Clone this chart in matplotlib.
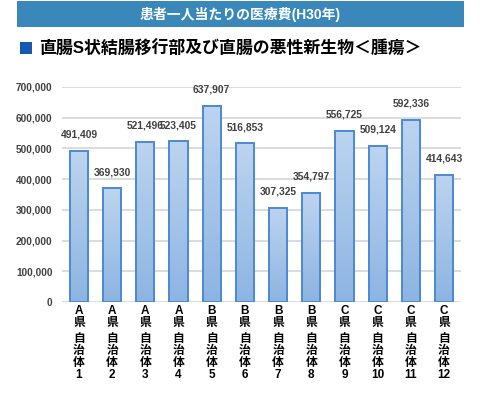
import numpy as np
import matplotlib.pyplot as plt
from matplotlib.patches import Rectangle
from matplotlib.ticker import FuncFormatter
from matplotlib.colors import LinearSegmentedColormap

plt.rcParams['font.family'] = ['Liberation Sans', 'Noto Sans CJK JP', 'DejaVu Sans']

banner_title = '患者一人当たりの医療費(H30年)'
chart_title = '直腸S状結腸移行部及び直腸の悪性新生物＜腫瘍＞'
prefectures = ['A', 'A', 'A', 'A', 'B', 'B', 'B', 'B', 'C', 'C', 'C', 'C']
towns = ['1', '2', '3', '4', '5', '6', '7', '8', '9', '10', '11', '12']
costs = [491409, 369930, 521496, 523405, 637907, 516853,
         307325, 354797, 556725, 509124, 592336, 414643]
y_ticks = [0, 100000, 200000, 300000, 400000, 500000, 600000, 700000]

W, H = 480, 397
fig = plt.figure(figsize=(W / 100, H / 100), dpi=100)
fig.patch.set_facecolor('white')


def px_box(x0, y0, x1, y1):
    # pixel box (top-left origin) -> figure fraction rect
    return (x0 / W, 1 - y1 / H, (x1 - x0) / W, (y1 - y0) / H)


# header banner
bx, by, bw, bh = px_box(17, 1, 464, 27)
fig.patches.append(Rectangle((bx, by), bw, bh, transform=fig.transFigure,
                             facecolor='#3a88ba', edgecolor='none'))
fig.text(240 / W, 1 - 14 / H, banner_title, color='white', fontsize=10,
         fontweight='bold', ha='center', va='center')

# title with blue square
sx, sy, sw, sh = px_box(20, 42, 32, 54)
fig.patches.append(Rectangle((sx, sy), sw, sh, transform=fig.transFigure,
                             facecolor='#1559b0', edgecolor='none'))
fig.text(39 / W, 1 - 48 / H, chart_title, color='black', fontsize=12.2,
         fontweight='bold', ha='left', va='center')

ax = fig.add_axes(px_box(62.4, 87, 460.6, 302))
x = np.arange(len(costs))
bar_w = 0.55

bars = ax.bar(x, costs, width=bar_w, facecolor='none', edgecolor='#4a8ad4',
              linewidth=1.4, zorder=3)

grad = LinearSegmentedColormap.from_list('g', ['#8db4e2', '#bdd4ef'])
g = np.linspace(0, 1, 256).reshape(-1, 1)
for b in bars:
    x0, w, h = b.get_x(), b.get_width(), b.get_height()
    im = ax.imshow(g, cmap=grad, origin='lower', aspect='auto',
                   extent=(x0, x0 + w, 0, h), zorder=2)
    im.set_clip_path(b)

for xi, v in zip(x, costs):
    ax.annotate(f'{v:,}', (xi, v), xytext=(0, 8), textcoords='offset points',
                ha='center', va='bottom', fontsize=7.4, fontweight='bold',
                color='#404040', annotation_clip=False)

ax.set_xlim(-0.5, len(costs) - 0.5)
ax.set_ylim(0, 700000)
ax.set_yticks(y_ticks)
ax.yaxis.set_major_formatter(FuncFormatter(lambda v, p: f'{int(v):,}'))
ax.tick_params(axis='y', length=0, pad=7, labelsize=7.2, labelcolor='#404040')
for lbl in ax.get_yticklabels():
    lbl.set_fontweight('bold')
ax.set_xticks([])
ax.grid(axis='y', color='#d9d9d9', linewidth=1.3, zorder=0)
ax.set_axisbelow(True)
for s in ax.spines.values():
    s.set_visible(False)

trans = ax.get_xaxis_transform()
for xi, pref, town in zip(x, prefectures, towns):
    ax.text(xi, -0.015, pref + '\n県', transform=trans, ha='center', va='top',
            fontsize=8.5, fontweight='bold', linespacing=1.0, color='black')
    ax.text(xi, -0.145, '自\n治\n体\n' + town, transform=trans, ha='center',
            va='top', fontsize=8.5, fontweight='bold', linespacing=1.0,
            color='black')

fig.savefig('out.png', dpi=100)
